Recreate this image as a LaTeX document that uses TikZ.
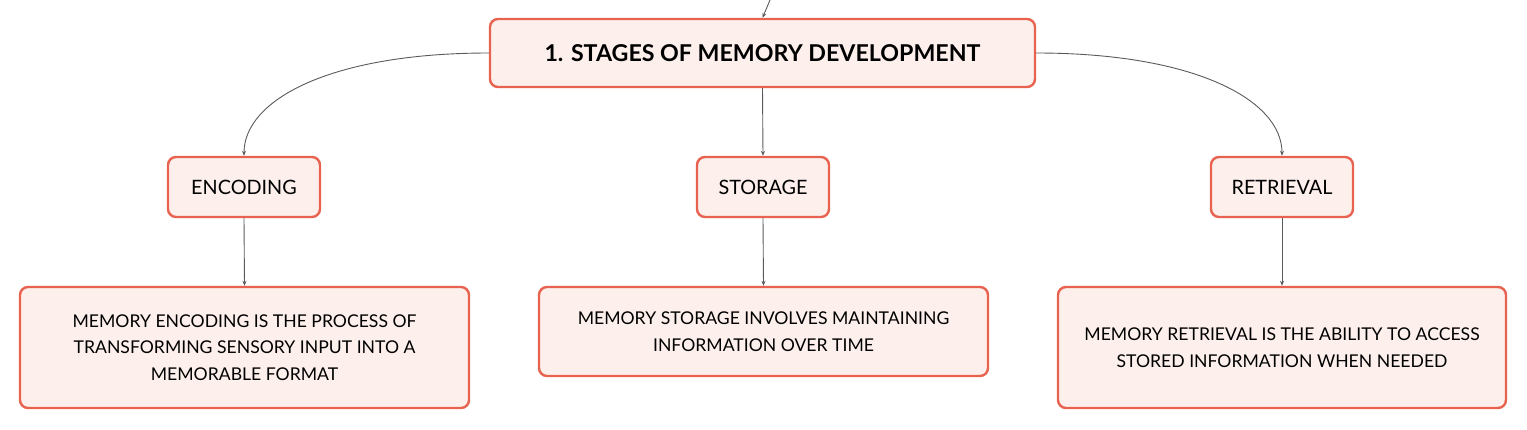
\documentclass[tikz,border=0pt]{standalone}
\usepackage{fontspec}
\setmainfont{Lato}
\usetikzlibrary{arrows.meta}
\definecolor{boxline}{RGB}{232,98,80}
\definecolor{boxfill}{RGB}{253,240,236}
\definecolor{conn}{RGB}{90,90,90}
\tikzset{
  box/.style={draw=boxline, fill=boxfill, line width=2.4pt, rounded corners=8pt, inner sep=0pt, align=center, text=black},
  conarrow/.style={draw=conn, line width=0.9pt, -{Stealth[length=5pt,width=4pt]}},
}
\begin{document}
\begin{tikzpicture}[x=1pt,y=-1pt]
\useasboundingbox (0,0) rectangle (1527,429);
\node[box, minimum width=545pt, minimum height=68pt, font=\fontsize{23.2}{26}\selectfont\bfseries] (root) at (762.5,53) {1. STAGES OF MEMORY DEVELOPMENT};
\node[box, minimum width=152pt, minimum height=60pt, font=\fontsize{19.8}{22}\selectfont] (enc) at (244,187) {ENCODING};
\node[box, minimum width=132pt, minimum height=60pt, font=\fontsize{19.8}{22}\selectfont] (sto) at (763,187) {STORAGE};
\node[box, minimum width=142pt, minimum height=60pt, font=\fontsize{19.8}{22}\selectfont] (ret) at (1282,187) {RETRIEVAL};
\node[box, minimum width=449pt, minimum height=121pt, font=\fontsize{17.6}{26.5}\selectfont] (encd) at (244.5,347.5) {MEMORY ENCODING IS THE PROCESS OF\\TRANSFORMING SENSORY INPUT INTO A\\MEMORABLE FORMAT};
\node[box, minimum width=449pt, minimum height=89pt, font=\fontsize{17.6}{26.5}\selectfont] (stod) at (763.5,331.5) {MEMORY STORAGE INVOLVES MAINTAINING\\INFORMATION OVER TIME};
\node[box, minimum width=448pt, minimum height=121pt, font=\fontsize{17.6}{26.5}\selectfont] (retd) at (1282,347.5) {MEMORY RETRIEVAL IS THE ABILITY TO ACCESS\\STORED INFORMATION WHEN NEEDED};
\coordinate (top) at (770,0);
\draw[conarrow] (top) -- (root.north);
\draw[conarrow] (root.west) .. controls (330,53) and (244,100) .. (enc.north);
\draw[conarrow] (root.east) .. controls (1195,53) and (1282,100) .. (ret.north);
\draw[conarrow] (root.south) -- (sto.north);
\draw[conarrow] (enc.south) -- (encd.north);
\draw[conarrow] (sto.south) -- (stod.north);
\draw[conarrow] (ret.south) -- (retd.north);
\end{tikzpicture}
\end{document}
